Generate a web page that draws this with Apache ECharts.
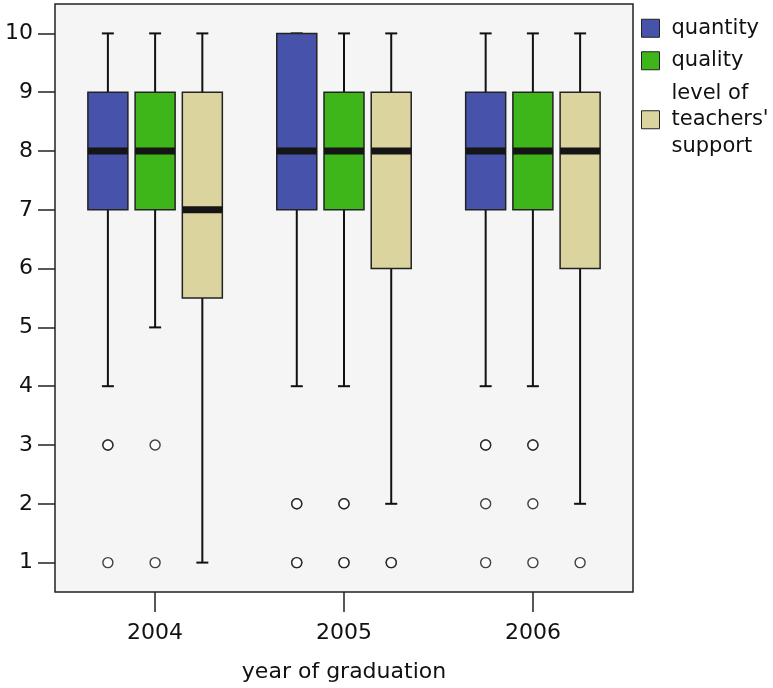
<!DOCTYPE html>
<html>
<head>
<meta charset="utf-8">
<script src="https://cdn.jsdelivr.net/npm/echarts@6/dist/echarts.min.js"></script>
<style>
  html, body { margin: 0; padding: 0; background: #ffffff; }
  #chart { width: 773px; height: 688px; }
</style>
</head>
<body>
<div id="chart"></div>
<script>
// Graduation years on the x axis
const years = [2004, 2005, 2006];
const yTicks = [1, 2, 3, 4, 5, 6, 7, 8, 9, 10];

// Box statistics per year: [lower whisker, Q1, median, Q3, upper whisker]
const quantityStats = [
  [4, 7, 8, 9, 10],
  [4, 7, 8, 10, 10],
  [4, 7, 8, 9, 10]
];
const qualityStats = [
  [5, 7, 8, 9, 10],
  [4, 7, 8, 9, 10],
  [4, 7, 8, 9, 10]
];
const supportStats = [
  [1, 5.5, 7, 9, 10],
  [2, 6, 8, 9, 10],
  [2, 6, 8, 9, 10]
];

// Outlying answers per year (repeated values are overlapping respondents)
const quantityOutliers = [[3, 3, 1], [2, 2, 1, 1], [3, 3, 2, 1]];
const qualityOutliers = [[3, 1], [2, 2, 1, 1], [3, 3, 2, 1]];
const supportOutliers = [[], [1, 1], [1]];

const measures = [
  { name: 'quantity', stats: quantityStats, outliers: quantityOutliers, color: '#4753AA', offset: -0.25 },
  { name: 'quality', stats: qualityStats, outliers: qualityOutliers, color: '#3EB619', offset: 0 },
  { name: "level of\nteachers'\nsupport", stats: supportStats, outliers: supportOutliers, color: '#DCD49F', offset: 0.25 }
];

const BOX_HALF = 20;     // half box width in px
const CAP_HALF = 6;      // half whisker cap width in px
const MEDIAN_H = 7;      // median bar thickness in px
const LINE = '#111111';

function boxRenderer(offset, color) {
  return function (params, api) {
    const x = api.value(0) + offset;
    const lo = api.coord([x, api.value(1)]);
    const q1 = api.coord([x, api.value(2)]);
    const md = api.coord([x, api.value(3)]);
    const q3 = api.coord([x, api.value(4)]);
    const hi = api.coord([x, api.value(5)]);
    const cx = lo[0];
    const lineStyle = { stroke: LINE, lineWidth: 2 };
    return {
      type: 'group',
      children: [
        { type: 'line', shape: { x1: cx, y1: lo[1], x2: cx, y2: q1[1] }, style: lineStyle },
        { type: 'line', shape: { x1: cx, y1: q3[1], x2: cx, y2: hi[1] }, style: lineStyle },
        { type: 'line', shape: { x1: cx - CAP_HALF, y1: lo[1], x2: cx + CAP_HALF, y2: lo[1] }, style: lineStyle },
        { type: 'line', shape: { x1: cx - CAP_HALF, y1: hi[1], x2: cx + CAP_HALF, y2: hi[1] }, style: lineStyle },
        {
          type: 'rect',
          shape: { x: cx - BOX_HALF, y: q3[1], width: BOX_HALF * 2, height: q1[1] - q3[1] },
          style: { fill: color, stroke: '#222222', lineWidth: 1.5 }
        },
        {
          type: 'rect',
          shape: { x: cx - BOX_HALF, y: md[1] - MEDIAN_H / 2, width: BOX_HALF * 2, height: MEDIAN_H },
          style: { fill: '#151515' }
        }
      ]
    };
  };
}

const series = [];
measures.forEach(function (m) {
  series.push({
    name: m.name,
    type: 'custom',
    renderItem: boxRenderer(m.offset, m.color),
    itemStyle: { color: m.color },
    encode: { x: 0, y: [1, 2, 3, 4, 5] },
    data: years.map(function (yr, i) { return [yr].concat(m.stats[i]); }),
    z: 2
  });
});
measures.forEach(function (m) {
  const pts = [];
  years.forEach(function (yr, i) {
    m.outliers[i].forEach(function (v) { pts.push([yr + m.offset, v]); });
  });
  series.push({
    name: 'outliers-' + m.name,
    type: 'scatter',
    symbol: 'circle',
    symbolSize: 10,
    itemStyle: { color: '#ffffff', borderColor: '#111111', borderWidth: 1.4 },
    data: pts,
    silent: true,
    z: 3
  });
});

const chart = echarts.init(document.getElementById('chart'), null, { renderer: 'canvas' });
chart.setOption({
  animation: false,
  backgroundColor: '#ffffff',
  textStyle: { fontFamily: 'DejaVu Sans' },
  grid: {
    left: 55, top: 4, right: 140, bottom: 94,
    show: true, backgroundColor: '#F5F5F5', borderColor: '#222222', borderWidth: 1.5
  },
  legend: {
    orient: 'vertical',
    left: 641, top: 15,
    padding: 0,
    itemWidth: 18, itemHeight: 18, itemGap: 6,
    icon: 'rect',
    selectedMode: false,
    textStyle: { fontSize: 21, lineHeight: 26.5, color: '#111111', fontFamily: 'DejaVu Sans', padding: [0, 0, 0, 7] },
    data: measures.map(function (m) {
      return { name: m.name, itemStyle: { color: m.color, borderColor: '#222222', borderWidth: 1 } };
    })
  },
  xAxis: {
    type: 'value',
    min: 2003.47, max: 2006.53,
    name: 'year of graduation',
    nameLocation: 'middle',
    nameGap: 69,
    nameTextStyle: { fontSize: 22, color: '#111111' },
    axisLine: { show: false },
    splitLine: { show: false },
    axisTick: { show: true, length: 20, customValues: years, lineStyle: { color: '#222222', width: 1.5 } },
    axisLabel: { customValues: years, margin: 30, fontSize: 22, color: '#111111', formatter: function (v) { return String(v); } }
  },
  yAxis: {
    type: 'value',
    min: 0.5, max: 10.5,
    axisLine: { show: false },
    splitLine: { show: false },
    axisTick: { show: true, length: 17, customValues: yTicks, lineStyle: { color: '#222222', width: 1.5 } },
    axisLabel: { customValues: yTicks, margin: 22, fontSize: 22, color: '#111111' }
  },
  series: series
});
</script>
</body>
</html>
